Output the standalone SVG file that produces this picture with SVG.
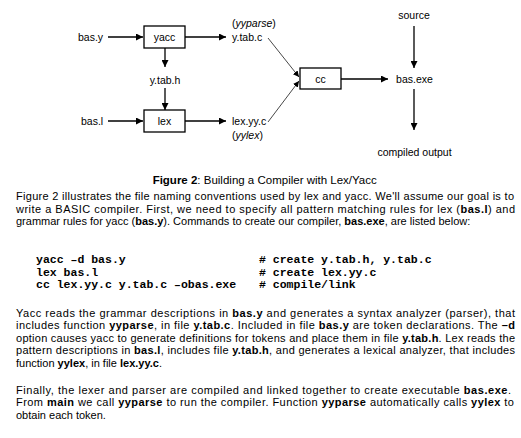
<svg xmlns="http://www.w3.org/2000/svg" width="521" height="438" viewBox="0 0 521 438">
<style>
.lbl{font-family:"Liberation Sans",Arial,sans-serif;font-size:10.5px;fill:#000}
.box{fill:#fff;stroke:#000;stroke-width:1.3}
.ln{stroke:#000;stroke-width:1.3;fill:none}
.dg{stroke:#333;stroke-width:0.9;fill:none}
.cap{font-family:"Liberation Sans",Arial,sans-serif;font-size:11.5px;fill:#000}
.p{font-family:"Liberation Sans",Arial,sans-serif;font-size:11px;fill:#000}
.code{font-family:"Liberation Mono","Courier New",monospace;font-size:11.5px;font-weight:bold;fill:#000;white-space:pre}
.b{font-weight:bold}
</style>
<defs>
<marker id="ah" viewBox="0 0 7 7" refX="7" refY="3.5" markerWidth="7" markerHeight="7" markerUnits="userSpaceOnUse" orient="auto"><path d="M0,0 L7,3.5 L0,7 Z" fill="#000"/></marker>
<marker id="ahs" viewBox="0 0 7 7" refX="7" refY="3.5" markerWidth="6" markerHeight="6" markerUnits="userSpaceOnUse" orient="auto"><path d="M0,0 L7,3.5 L0,7 Z" fill="#000"/></marker>
</defs>
<g id="connectors">
<line class="ln" x1="108" y1="37" x2="143" y2="37" marker-end="url(#ah)"/>
<line class="ln" x1="185" y1="37" x2="226" y2="37" marker-end="url(#ah)"/>
<line class="ln" x1="165" y1="48" x2="165" y2="67" marker-end="url(#ah)"/>
<line class="ln" x1="165" y1="88" x2="165" y2="110" marker-end="url(#ah)"/>
<line class="ln" x1="108" y1="121" x2="143" y2="121" marker-end="url(#ah)"/>
<line class="ln" x1="185" y1="121" x2="226" y2="121" marker-end="url(#ah)"/>
<line class="dg" x1="268" y1="38" x2="299" y2="77" marker-end="url(#ahs)"/>
<line class="dg" x1="268" y1="122" x2="299" y2="81" marker-end="url(#ahs)"/>
<line class="ln" x1="341" y1="79" x2="388" y2="79" marker-end="url(#ah)"/>
<line class="ln" x1="414" y1="26" x2="414" y2="68" marker-end="url(#ah)"/>
<line class="ln" x1="414" y1="89" x2="414" y2="130" marker-end="url(#ah)"/>
</g>
<g id="bas-y"><text class="lbl" x="78" y="41">bas.y</text></g>
<g id="yacc"><rect class="box" x="144" y="26" width="41" height="22"/><text class="lbl" x="164.5" y="41" text-anchor="middle">yacc</text></g>
<g id="y-tab-c"><text class="lbl" x="232" y="26.5">(<tspan font-style="italic">yyparse</tspan>)</text><text class="lbl" x="232" y="41">y.tab.c</text></g>
<g id="y-tab-h"><text class="lbl" x="165" y="84" text-anchor="middle">y.tab.h</text></g>
<g id="bas-l"><text class="lbl" x="81" y="125">bas.l</text></g>
<g id="lex"><rect class="box" x="144" y="110" width="41" height="22"/><text class="lbl" x="164.5" y="125" text-anchor="middle">lex</text></g>
<g id="lex-yy-c"><text class="lbl" x="232" y="125">lex.yy.c</text><text class="lbl" x="232" y="139">(<tspan font-style="italic">yylex</tspan>)</text></g>
<g id="cc"><rect class="box" x="300" y="68" width="41" height="21"/><text class="lbl" x="320.5" y="83" text-anchor="middle">cc</text></g>
<g id="source"><text class="lbl" x="414" y="19" text-anchor="middle">source</text></g>
<g id="bas-exe"><text class="lbl" x="414.5" y="83" text-anchor="middle">bas.exe</text></g>
<g id="compiled-output"><text class="lbl" x="414.5" y="156" text-anchor="middle">compiled output</text></g>
<text class="cap" x="264.7" y="184" text-anchor="middle"><tspan class="b">Figure 2</tspan>: Building a Compiler with Lex/Yacc</text>
<text class="p" x="16" y="200.3" textLength="498" lengthAdjust="spacing">Figure 2 illustrates the file naming conventions used by lex and yacc. We'll assume our goal is to</text>
<text class="p" x="16" y="212.8" textLength="499" lengthAdjust="spacing">write a BASIC compiler. First, we need to specify all pattern matching rules for lex (<tspan class="b">bas.l</tspan>) and</text>
<text class="p" x="16" y="225.3">grammar rules for yacc (<tspan class="b">bas.y</tspan>). Commands to create our compiler, <tspan class="b">bas.exe</tspan>, are listed below:</text>
<text class="code" x="36" y="263">yacc –d bas.y</text><text class="code" x="259" y="263"># create y.tab.h, y.tab.c</text>
<text class="code" x="36" y="275.5">lex bas.l</text><text class="code" x="259" y="275.5"># create lex.yy.c</text>
<text class="code" x="36" y="288">cc lex.yy.c y.tab.c –obas.exe</text><text class="code" x="259" y="288"># compile/link</text>
<text class="p" x="16" y="316.6" textLength="499" lengthAdjust="spacing">Yacc reads the grammar descriptions in <tspan class="b">bas.y</tspan> and generates a syntax analyzer (parser), that</text>
<text class="p" x="16" y="329.2" textLength="499" lengthAdjust="spacing">includes function <tspan class="b">yyparse</tspan>, in file <tspan class="b">y.tab.c</tspan>. Included in file <tspan class="b">bas.y</tspan> are token declarations. The <tspan class="b">–d</tspan></text>
<text class="p" x="16" y="341.8" textLength="499" lengthAdjust="spacing">option causes yacc to generate definitions for tokens and place them in file <tspan class="b">y.tab.h</tspan>. Lex reads the</text>
<text class="p" x="16" y="354.4" textLength="499" lengthAdjust="spacing">pattern descriptions in <tspan class="b">bas.l</tspan>, includes file <tspan class="b">y.tab.h</tspan>, and generates a lexical analyzer, that includes</text>
<text class="p" x="16" y="367">function <tspan class="b">yylex</tspan>, in file <tspan class="b">lex.yy.c</tspan>.</text>
<text class="p" x="16" y="393.6" textLength="495" lengthAdjust="spacing">Finally, the lexer and parser are compiled and linked together to create executable <tspan class="b">bas.exe</tspan>.</text>
<text class="p" x="16" y="406.2" textLength="498" lengthAdjust="spacing">From <tspan class="b">main</tspan> we call <tspan class="b">yyparse</tspan> to run the compiler. Function <tspan class="b">yyparse</tspan> automatically calls <tspan class="b">yylex</tspan> to</text>
<text class="p" x="16" y="418.8">obtain each token.</text>
</svg>
